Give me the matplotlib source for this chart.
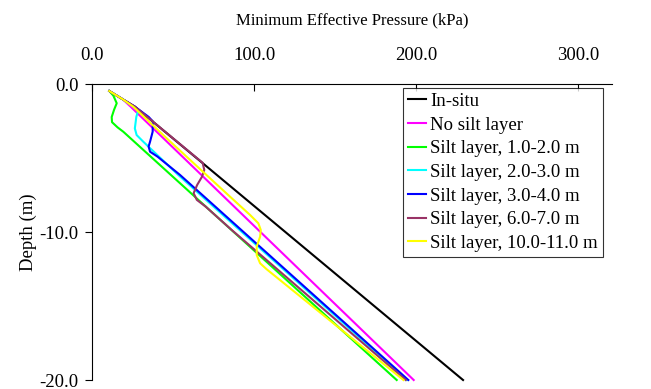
import matplotlib
matplotlib.use("Agg")
import matplotlib.pyplot as plt

plt.rcParams['font.family'] = ['Liberation Serif', 'DejaVu Serif']

# depth (m, negative down) and minimum effective pressure (kPa)
insitu_depth = [-0.44, -1.0, -1.5, -20.0]
insitu_p = [10.4, 18.7, 26.2, 229.0]

nosilt_depth = [-0.44, -1.0, -1.5, -3.75, -20.0]
nosilt_p = [10.4, 18.7, 23.6, 44.9, 198.5]

silt1_depth = [-0.44, -0.75, -1.27, -1.7, -2.2, -2.55, -2.9, -3.2, -20.0]
silt1_p = [10.4, 12.9, 15.0, 13.4, 11.9, 12.1, 15.5, 19.1, 188.0]

silt2_depth = [-0.44, -1.0, -1.73, -2.2, -2.97, -3.42, -3.87, -6.12, -20.0]
silt2_p = [10.4, 18.7, 28.3, 27.1, 26.2, 27.3, 31.4, 53.0, 194.3]

silt3_depth = [-0.44, -1.0, -1.5, -2.2, -2.5, -3.2, -3.87, -4.2, -4.55, -4.88, -6.12, -20.0]
silt3_p = [10.4, 18.7, 26.2, 34.8, 37.3, 37.2, 35.6, 34.7, 35.6, 40.2, 54.1, 195.2]

silt6_depth = [-0.44, -1.0, -1.5, -5.3, -5.78, -6.24, -6.8, -7.36, -7.81, -8.27, -9.85, -20.0]
silt6_p = [10.4, 18.7, 26.2, 68.1, 69.1, 67.7, 64.7, 62.5, 64.5, 70.0, 86.1, 193.6]

silt10_depth = [-0.44, -1.0, -1.5, -3.75, -7.59, -8.83, -9.39, -9.84, -10.3, -10.97,
                -11.54, -12.1, -12.5, -20.0]
silt10_p = [10.4, 18.7, 25.2, 46.9, 85.0, 97.4, 102.5, 104.0, 103.6, 101.5,
            101.5, 103.6, 107.6, 192.2]

series = [
    ("In-situ", insitu_depth, insitu_p, "black"),
    ("No silt layer", nosilt_depth, nosilt_p, "#FF00FF"),
    ("Silt layer, 1.0-2.0 m", silt1_depth, silt1_p, "#00FF00"),
    ("Silt layer, 2.0-3.0 m", silt2_depth, silt2_p, "#00FFFF"),
    ("Silt layer, 3.0-4.0 m", silt3_depth, silt3_p, "#0000FF"),
    ("Silt layer, 6.0-7.0 m", silt6_depth, silt6_p, "#993366"),
    ("Silt layer, 10.0-11.0 m", silt10_depth, silt10_p, "#FFFF00"),
]

fs = 13.5

fig = plt.figure(figsize=(6.51, 3.89), dpi=100)
ax = fig.add_axes([0.142, 0.0231, 0.798, 0.7597])

for label, depth, p, color in series:
    ax.plot(p, depth, color=color, lw=1.5, label=label, clip_on=False)

ax.set_xlim(0, 321)
ax.set_ylim(-20, 0)
ax.set_xticks([0, 100, 200, 300])
ax.set_yticks([0, -10, -20])
ax.set_xticklabels(["0.0", "100.0", "200.0", "300.0"])
ax.set_yticklabels(["0.0", "-10.0", "-20.0"])

ax.xaxis.tick_top()
ax.xaxis.set_label_position('top')
ax.spines['right'].set_visible(False)
ax.spines['bottom'].set_visible(False)
ax.tick_params(axis='x', direction='in', length=5, pad=15, labelsize=fs)
ax.tick_params(axis='y', direction='out', length=5, pad=5, labelsize=fs)

ax.set_xlabel("Minimum Effective Pressure (kPa)", fontsize=12, labelpad=16)
ax.set_ylabel("Depth (m)", fontsize=fs, labelpad=2)

leg = ax.legend(loc='upper right', bbox_to_anchor=(0.982, 0.988), fontsize=fs,
                frameon=True, fancybox=False, handlelength=0.95, handletextpad=0.25,
                borderpad=0.25, labelspacing=0.35, borderaxespad=0)
leg.get_frame().set_edgecolor('black')
leg.get_frame().set_linewidth(0.8)

fig.savefig("out.png", dpi=100)
